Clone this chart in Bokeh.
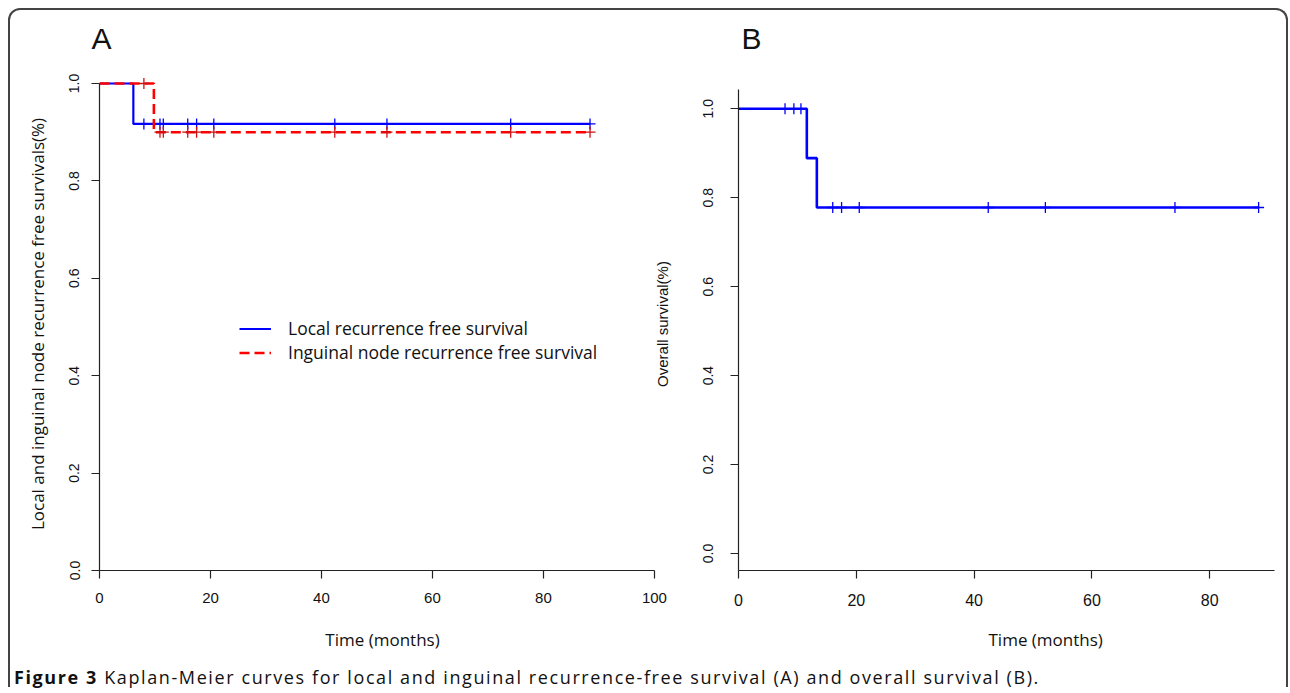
import numpy as np
from bokeh.plotting import figure
from bokeh.models import (Range1d, FixedTicker, PrintfTickFormatter, Legend, LegendItem,
                          Div, Title)
from bokeh.layouts import column, row
from bokeh.embed import file_html
from bokeh.resources import INLINE

# ---------------- data ----------------
# Panel A: local recurrence free survival
local_step_t = [0.0, 6.1, 88.4]
local_step_s = [1.0, 0.917, 0.917]
local_cens_t = [8.0, 10.9, 11.5, 15.9, 17.5, 20.6, 42.4, 51.8, 74.1, 88.4]
# Panel A: inguinal node recurrence free survival
inguinal_step_t = [0.0, 9.8, 88.4]
inguinal_step_s = [1.0, 0.90, 0.90]
inguinal_cens_t = [8.0, 10.9, 11.5, 15.9, 17.5, 20.6, 42.4, 51.8, 74.1, 88.4]
# Panel B: overall survival
overall_step_t = [0.0, 11.6, 13.3, 88.4]
overall_step_s = [1.0, 0.889, 0.778, 0.778]
overall_cens_t = [7.9, 9.4, 10.6, 16.0, 17.5, 20.5, 42.4, 52.1, 74.1, 88.3]

a_xticks = [0, 20, 40, 60, 80, 100]
a_yticks = [0.0, 0.2, 0.4, 0.6, 0.8, 1.0]
b_xticks = [0, 20, 40, 60, 80]
b_yticks = [0.0, 0.2, 0.4, 0.6, 0.8, 1.0]

legend_labels = ["Local recurrence free survival", "Inguinal node recurrence free survival"]
caption_bold = "Figure 3"
caption_rest = " Kaplan-Meier curves for local and inguinal recurrence-free survival (A) and overall survival (B)."


def surv_at(times, st, ss):
    idx = np.searchsorted(np.asarray(st), np.asarray(times), side="right") - 1
    return list(np.asarray(ss)[idx])


AX = "#222222"
BORDERS = dict(min_border_left=89, min_border_right=12, min_border_top=79, min_border_bottom=115)
FIG_H = 687


def style_axes(p, xfont, xsize, yfont, ysize):
    p.outline_line_color = None
    p.xgrid.visible = False
    p.ygrid.visible = False
    p.border_fill_alpha = 0
    p.background_fill_alpha = 0
    for ax in (p.xaxis[0], p.yaxis[0]):
        ax.axis_line_color = AX
        ax.axis_line_width = 1.2
        ax.major_tick_line_color = AX
        ax.major_tick_line_width = 1.2
        ax.minor_tick_line_color = None
        ax.major_tick_out = 8
        ax.major_tick_in = 0
        ax.major_label_text_color = "#111111"
        ax.axis_label_text_font_style = "normal"
        ax.axis_label_text_color = "#111111"
    p.xaxis[0].major_label_text_font = xfont
    p.xaxis[0].major_label_text_font_size = xsize
    p.yaxis[0].major_label_text_font = yfont
    p.yaxis[0].major_label_text_font_size = ysize
    p.yaxis[0].major_label_orientation = "vertical"
    p.yaxis[0].formatter = PrintfTickFormatter(format="%.1f")


def panel_letter(p, txt, dx):
    p.title.text = txt
    p.title.text_font = "Liberation Sans"
    p.title.text_font_size = "30px"
    p.title.text_font_style = "normal"
    p.title.text_color = "#111111"
    p.title.align = "left"
    p.title.vertical_align = "middle"
    p.title.offset = dx
    p.title.standoff = 43


# ---------------- Panel A ----------------
pA = figure(width=667, height=FIG_H, x_range=Range1d(0, 102), y_range=Range1d(0, 1.0123),
            output_backend="svg", toolbar_location=None, margin=(-12, 0, 0, 0), **BORDERS)
style_axes(pA, "Liberation Sans", "15px", "Liberation Sans", "14px")
pA.xaxis[0].ticker = FixedTicker(ticks=a_xticks)
pA.yaxis[0].ticker = FixedTicker(ticks=a_yticks)
pA.xaxis[0].bounds = (0, 100)
pA.yaxis[0].bounds = (0, 1)
pA.xaxis[0].major_label_standoff = 14
pA.yaxis[0].major_label_standoff = 12
pA.xaxis[0].axis_label = "Time (months)"
pA.xaxis[0].axis_label_text_font = "Open Sans"
pA.xaxis[0].axis_label_text_font_size = "17px"
pA.xaxis[0].axis_label_standoff = 22
pA.yaxis[0].axis_label = "Local and inguinal node recurrence free survivals(%)"
pA.yaxis[0].axis_label_text_font = "Open Sans"
pA.yaxis[0].axis_label_text_font_size = "17px"
pA.yaxis[0].axis_label_standoff = 18
panel_letter(pA, "A", -8)

rA1 = pA.step(local_step_t, local_step_s, mode="after", line_color="#0000ff", line_width=2.2)
pA.scatter(local_cens_t, surv_at(local_cens_t, local_step_t, local_step_s), marker="cross",
           size=11, line_color="#0000ff", line_width=1.3)
rA2 = pA.step(inguinal_step_t, inguinal_step_s, mode="after", line_color="#ff0000",
              line_width=2.6, line_dash="10 5")
pA.scatter(inguinal_cens_t, surv_at(inguinal_cens_t, inguinal_step_t, inguinal_step_s),
           marker="cross", size=11, line_color="#d01010", line_width=1.3)

legend = Legend(items=[LegendItem(label=legend_labels[0], renderers=[rA1]),
                       LegendItem(label=legend_labels[1], renderers=[rA2])],
                location=(140, 206), orientation="vertical",
                background_fill_alpha=0, border_line_color=None,
                padding=0, margin=0, spacing=0,
                glyph_width=32, glyph_height=21, label_height=21, label_standoff=17,
                label_text_font="Open Sans", label_text_font_size="17.5px",
                label_text_color="#111111")
pA.add_layout(legend)

# ---------------- Panel B ----------------
pB = figure(width=637, height=FIG_H, x_range=Range1d(0, 91), y_range=Range1d(-0.0382, 1.0703),
            output_backend="svg", toolbar_location=None, margin=(-12, 0, 0, -28), **BORDERS)
style_axes(pB, "Liberation Sans", "16px", "Liberation Sans", "14px")
pB.xaxis[0].ticker = FixedTicker(ticks=b_xticks)
pB.yaxis[0].ticker = FixedTicker(ticks=b_yticks)
pB.yaxis[0].bounds = (-0.0382, 1.043)
pB.xaxis[0].major_label_standoff = 15
pB.yaxis[0].major_label_standoff = 17
pB.yaxis[0].axis_label = "Overall survival(%)"
pB.yaxis[0].axis_label_text_font = "Liberation Sans"
pB.yaxis[0].axis_label_text_font_size = "15px"
pB.yaxis[0].axis_label_standoff = 30
panel_letter(pB, "B", 3)

pB.add_layout(Title(text="Time (months)", align="left", offset=250, text_font="Open Sans",
                    text_font_size="17px", text_font_style="normal", text_color="#111111",
                    standoff=35), "below")

pB.step(overall_step_t, overall_step_s, mode="after", line_color="#0000ff", line_width=2.6)
pB.scatter(overall_cens_t, surv_at(overall_cens_t, overall_step_t, overall_step_s),
           marker="cross", size=11, line_color="#0000ff", line_width=1.3)

# ---------------- caption + frame ----------------
cap = Div(text=f'<div style="padding-top:14px;padding-left:4px;line-height:20px;'
               f'font-family:\'Open Sans\';font-size:18px;letter-spacing:1.6px;color:#111;'
               f'white-space:nowrap"><b>{caption_bold}</b>{caption_rest}</div>',
          width=1276, height=34, margin=(-32, 0, 0, 0))

layout = column(row(pA, pB), cap, width=1280, sizing_mode="fixed",
                styles={"border": "2px solid #444", "border-bottom": "none",
                        "border-radius": "12px 12px 0 0", "margin": "8px 0 0 8px",
                        "box-sizing": "border-box"})

open("out.html", "w").write(file_html(layout, INLINE))
